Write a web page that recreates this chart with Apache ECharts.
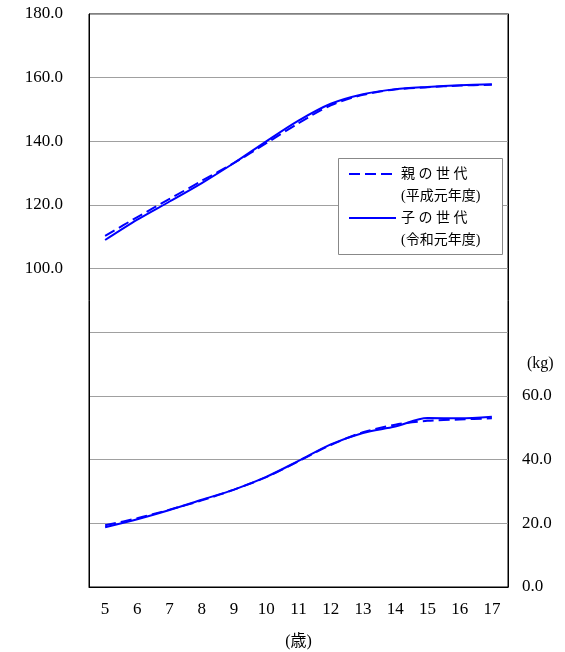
<!DOCTYPE html>
<html><head><meta charset="utf-8">
<script src="https://cdn.jsdelivr.net/npm/echarts@6/dist/echarts.min.js"></script>
<style>html,body{margin:0;padding:0;background:#fff}#c{width:565px;height:652px}</style>
</head><body><div id="c"></div>
<script>
const ages = ['5','6','7','8','9','10','11','12','13','14','15','16','17'];
const parentHeight = [110.3,116.2,121.9,127.6,133.2,139.4,145.7,151.3,154.6,156.3,157.0,157.5,157.8];
const childHeight  = [109.0,115.4,121.1,126.9,133.2,140.0,146.5,151.8,154.8,156.4,157.1,157.6,157.9];
const parentWeight = [19.4,21.6,24.3,27.2,30.6,34.5,39.5,44.6,48.6,51.0,52.2,52.6,53.0];
const childWeight  = [18.8,21.3,24.2,27.4,30.6,34.6,39.6,44.8,48.4,50.4,53.1,53.0,53.5];
const parentName = '親 の 世 代\n(平成元年度)';
const childName = '子 の 世 代\n(令和元年度)';
const xName = '(歳)';
const kgName = '(kg)';

const FONT = '"Liberation Serif","Noto Sans CJK JP",serif';
const chart = echarts.init(document.getElementById('c'));
const blue = '#0000ff';
chart.setOption({
  animation: false,
  backgroundColor: '#fff',
  grid: {left: 89, right: 57, top: 14, bottom: 65, show: true, borderColor: '#000', borderWidth: 1,
         containLabel: false, outerBoundsMode: 'none'},
  legend: {
    orient: 'vertical', left: 348, top: 141, padding: 0, itemGap: -22,
    itemWidth: 47, itemHeight: 14,
    data: [parentName, childName],
    formatter: '\n{name}',
    itemStyle: {opacity: 0, borderWidth: 0},
    textStyle: {fontFamily: FONT, fontSize: 14, color: '#000', lineHeight: 22}
  },
  graphic: [
    {type: 'rect', z: 3, shape: {x: 338.5, y: 158.5, width: 164, height: 96},
     style: {fill: '#fff', stroke: '#888', lineWidth: 1}},
    {type: 'text', left: 527, top: 356, style: {text: kgName, font: '16px ' + FONT, fill: '#000'}}
  ],
  xAxis: {
    type: 'category', data: ages, boundaryGap: true,
    axisLine: {lineStyle: {color: '#000'}},
    axisTick: {inside: true, length: 5, lineStyle: {color: '#000'}},
    axisLabel: {fontFamily: FONT, fontSize: 17, color: '#000', margin: 14},
    name: xName, nameLocation: 'middle', nameGap: 47,
    nameTextStyle: {fontFamily: FONT, fontSize: 16, color: '#000'}
  },
  yAxis: [
    {type: 'value', min: 0, max: 180, interval: 20, position: 'left',
     axisLine: {show: true, lineStyle: {color: '#000'}}, axisTick: {show: false},
     splitLine: {lineStyle: {color: '#a0a0a0'}},
     axisLabel: {fontFamily: FONT, fontSize: 17, color: '#000', margin: 26,
       formatter: v => v >= 100 ? v.toFixed(1) : ''}},
    {type: 'value', min: 0, max: 180, interval: 20, position: 'right',
     axisLine: {show: true, lineStyle: {color: '#000'}}, axisTick: {show: false},
     splitLine: {show: false},
     axisLabel: {fontFamily: FONT, fontSize: 17, color: '#000', margin: 14,
       formatter: v => v <= 60 ? v.toFixed(1) : ''}}
  ],
  series: [
    {name: parentName, type: 'line', data: parentHeight, symbol: 'none', smooth: 0.3,
     lineStyle: {color: blue, width: 2, type: [11,5]}, itemStyle: {color: blue}, z: 2},
    {name: childName, type: 'line', data: childHeight, symbol: 'none', smooth: 0.3,
     lineStyle: {color: blue, width: 2, type: 'solid'}, itemStyle: {color: blue}, z: 2},
    {name: parentName, type: 'line', yAxisIndex: 1, data: parentWeight, symbol: 'none', smooth: 0.3,
     lineStyle: {color: blue, width: 2, type: [11,5]}, itemStyle: {color: blue}, z: 2},
    {name: childName, type: 'line', yAxisIndex: 1, data: childWeight, symbol: 'none', smooth: 0.3,
     lineStyle: {color: blue, width: 2, type: 'solid'}, itemStyle: {color: blue}, z: 2}
  ]
});
</script></body></html>
